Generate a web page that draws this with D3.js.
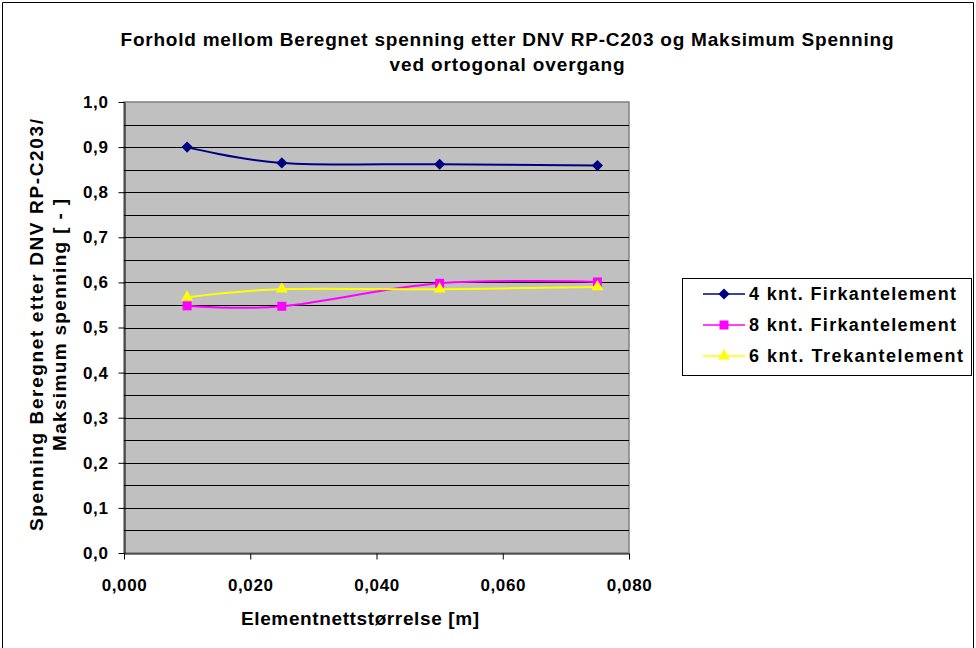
<!DOCTYPE html>
<html>
<head>
<meta charset="utf-8">
<script src="https://cdn.jsdelivr.net/npm/d3@7"></script>
<style>
  html, body { margin: 0; padding: 0; background: #fff; }
  svg { display: block; font-family: "Liberation Sans", Arial, sans-serif; }
</style>
</head>
<body>
<svg id="chart" width="976" height="648"></svg>
<script>
// ---- data ----
const titleLines = ["Forhold mellom Beregnet spenning etter DNV RP-C203 og Maksimum Spenning", "ved ortogonal overgang"];
const yTitleLines = ["Spenning Beregnet etter DNV RP-C203/", "Maksimum spenning [ - ]"];
const xTitle = "Elementnettstørrelse [m]";
const xValues = [0.010, 0.025, 0.050, 0.075];
const seriesNames = ["4 knt. Firkantelement", "8 knt. Firkantelement", "6 knt. Trekantelement"];
const series4knt = [0.900, 0.865, 0.862, 0.859];
const series8knt = [0.548, 0.547, 0.598, 0.601];
const series6knt = [0.567, 0.585, 0.585, 0.590];
const xTicks = [0, 0.02, 0.04, 0.06, 0.08];
const yTicks = [0, 0.1, 0.2, 0.3, 0.4, 0.5, 0.6, 0.7, 0.8, 0.9, 1.0];
const yGrid = [0.05, 0.1, 0.15, 0.2, 0.25, 0.3, 0.35, 0.4, 0.45, 0.5, 0.55, 0.6, 0.65, 0.7, 0.75, 0.8, 0.85, 0.9, 0.95];

const colors = ["#000080", "#FF00FF", "#FFFF00"];
const allSeries = [series4knt, series8knt, series6knt];
const markerPath = [
  d3.symbol().type(d3.symbolSquare).size(62)(),
  d3.symbol().type(d3.symbolSquare).size(81)(),
  d3.symbol().type(d3.symbolTriangle).size(62)()
];
const markerRot = [45, 0, 0];

const svg = d3.select("#chart");
const plot = {left: 124, top: 102, right: 629, bottom: 553};

// outer border
svg.append("path")
  .attr("d", "M2.5,648 L2.5,2.5 L973.5,2.5 L973.5,648")
  .attr("fill", "none").attr("stroke", "#000").attr("stroke-width", 1);

const x = d3.scaleLinear().domain([0, 0.08]).range([plot.left, plot.right]);
const y = d3.scaleLinear().domain([0, 1]).range([plot.bottom, plot.top]);

// plot background
svg.append("rect")
  .attr("x", plot.left).attr("y", plot.top)
  .attr("width", plot.right - plot.left).attr("height", plot.bottom - plot.top)
  .attr("fill", "#C0C0C0").attr("stroke", "#808080").attr("stroke-width", 1.5);

// gridlines
svg.append("g").selectAll("line").data(yGrid).join("line")
  .attr("x1", plot.left).attr("x2", plot.right)
  .attr("y1", d => Math.round(y(d)) + 0.5).attr("y2", d => Math.round(y(d)) + 0.5)
  .attr("stroke", "#000").attr("stroke-width", 1);

const fmtX = v => d3.format(".3f")(v).replace(".", ",");
const fmtY = v => d3.format(".1f")(v).replace(".", ",");

// axes
const xAxis = d3.axisBottom(x).tickValues(xTicks).tickFormat(fmtX).tickSize(6).tickSizeOuter(0);
const gx = svg.append("g").attr("transform", `translate(0,${plot.bottom + 0.5})`).call(xAxis);
gx.selectAll("text").attr("dy", null).attr("y", 37)
  .style("font-size", "17px").style("font-weight", "bold").style("letter-spacing", "0.6px").attr("fill", "#000");
gx.select(".domain").attr("stroke", "#000");

const yAxis = d3.axisLeft(y).tickValues(yTicks).tickFormat(fmtY).tickSize(6).tickSizeOuter(0);
const gy = svg.append("g").attr("transform", `translate(${plot.left + 0.5},0)`).call(yAxis);
gy.selectAll("text").attr("x", -16)
  .style("font-size", "17px").style("font-weight", "bold").style("letter-spacing", "0.6px").attr("fill", "#000");
gy.select(".domain").attr("stroke", "#000");

// lines
const line = d3.line().x((d, i) => x(xValues[i])).y(d => y(d)).curve(d3.curveCardinal.tension(0));
allSeries.forEach((s, k) => {
  svg.append("path").datum(s).attr("d", line)
    .attr("fill", "none").attr("stroke", colors[k]).attr("stroke-width", 2);
});
allSeries.forEach((s, k) => {
  svg.append("g").selectAll("path").data(s).join("path")
    .attr("transform", (d, i) => `translate(${x(xValues[i])},${y(d)}) rotate(${markerRot[k]})`)
    .attr("d", markerPath[k])
    .attr("fill", colors[k]);
});

// title
const titleLen = [773, 235];
svg.append("g").selectAll("text").data(titleLines).join("text")
  .attr("x", 507).attr("y", (d, i) => 46 + i * 25)
  .attr("text-anchor", "middle")
  .attr("textLength", (d, i) => titleLen[i]).attr("lengthAdjust", "spacing")
  .style("font-size", "19px").style("font-weight", "bold")
  .text(d => d);

// y title
const yTitleLen = [412, 252];
svg.append("g").selectAll("text").data(yTitleLines).join("text")
  .attr("transform", (d, i) => `translate(${43 + i * 23},${325}) rotate(-90)`)
  .attr("text-anchor", "middle")
  .attr("textLength", (d, i) => yTitleLen[i]).attr("lengthAdjust", "spacing")
  .style("font-size", "19px").style("font-weight", "bold")
  .text(d => d);

// x title
svg.append("text").attr("x", 360).attr("y", 625).attr("text-anchor", "middle")
  .attr("textLength", 238).attr("lengthAdjust", "spacing")
  .style("font-size", "19px").style("font-weight", "bold")
  .text(xTitle);

// legend
const legendLen = [207, 207, 214];
const lg = svg.append("g");
lg.append("rect").attr("x", 682.5).attr("y", 278.5).attr("width", 289).attr("height", 97)
  .attr("fill", "#fff").attr("stroke", "#000").attr("stroke-width", 1);
seriesNames.forEach((name, k) => {
  const cy = 294 + k * 31;
  lg.append("line").attr("x1", 703).attr("x2", 745).attr("y1", cy).attr("y2", cy)
    .attr("stroke", colors[k]).attr("stroke-width", 1.5);
  lg.append("path").attr("transform", `translate(724,${cy}) rotate(${markerRot[k]})`)
    .attr("d", markerPath[k]).attr("fill", colors[k]);
  lg.append("text").attr("x", 749).attr("y", cy + 6)
    .attr("textLength", legendLen[k]).attr("lengthAdjust", "spacing")
    .style("font-size", "18px").style("font-weight", "bold")
    .text(name);
});
</script>
</body>
</html>
